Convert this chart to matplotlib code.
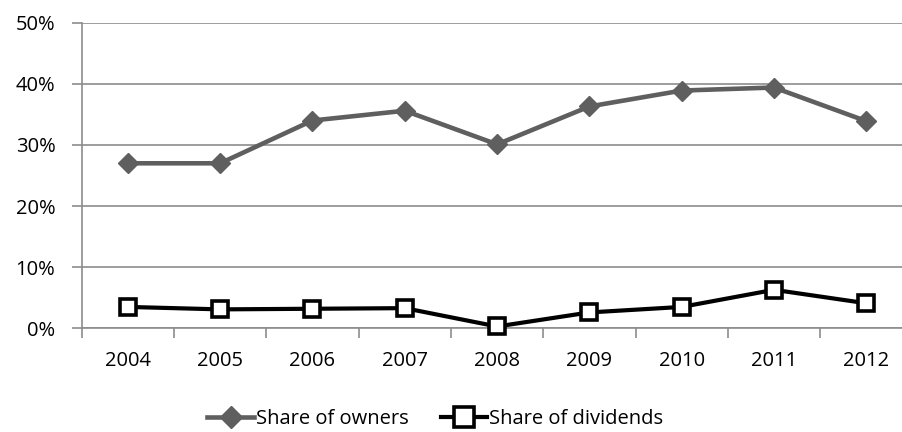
import numpy as np
import matplotlib.pyplot as plt

# data
years = ["2004", "2005", "2006", "2007", "2008", "2009", "2010", "2011", "2012"]
owners = [27.0, 27.0, 34.0, 35.6, 30.1, 36.3, 38.9, 39.4, 33.9]
dividends = [3.5, 3.1, 3.2, 3.3, 0.3, 2.6, 3.5, 6.3, 4.1]

plt.rcParams['font.family'] = ['Open Sans', 'DejaVu Sans']

fig = plt.figure(figsize=(9.03, 4.32), dpi=100)
ax = fig.add_axes([0.0905, 0.240, 0.920, 0.7074])

x = np.arange(len(years))
ax.plot(x, owners, color="#5f5f5f", linewidth=3.3, marker="D", markersize=10,
        markerfacecolor="#5f5f5f", markeredgecolor="#5f5f5f", label="Share of owners",
        zorder=3)
ax.plot(x, dividends, color="black", linewidth=3.0, marker="s", markersize=12,
        markerfacecolor="white", markeredgecolor="black", markeredgewidth=2.6,
        label="Share of dividends", zorder=4, clip_on=False)

ax.set_xlim(-0.5, len(years) - 0.5)
ax.set_ylim(0, 50)
ax.set_yticks(range(0, 51, 10))
ax.set_yticklabels([str(v) + "%" for v in range(0, 51, 10)])
ax.set_xticks(x)
ax.set_xticklabels(years)
ax.set_xticks(np.arange(-0.5, len(years), 1), minor=True)

ax.grid(axis="y", color="#8c8c8c", linewidth=1.2)
ax.set_axisbelow(True)
for s in ["top", "right"]:
    ax.spines[s].set_visible(False)
ax.spines["left"].set_color("#8c8c8c")
ax.spines["bottom"].set_color("#8c8c8c")
ax.spines["left"].set_linewidth(1.2)
ax.spines["bottom"].set_linewidth(1.2)

ax.tick_params(axis="y", length=7, width=1.2, color="#8c8c8c", labelsize=14.5, pad=12)
ax.tick_params(axis="x", which="major", length=0, labelsize=14.5, pad=16)
ax.tick_params(axis="x", which="minor", length=7, width=1.2, color="#8c8c8c")

fig.legend(loc="center", bbox_to_anchor=(0.482, 0.03), ncol=2, frameon=False,
           fontsize=14.5, handlelength=2.3, handletextpad=0.1, columnspacing=1.6,
           markerscale=1.15)

fig.savefig("out.png", dpi=100)
